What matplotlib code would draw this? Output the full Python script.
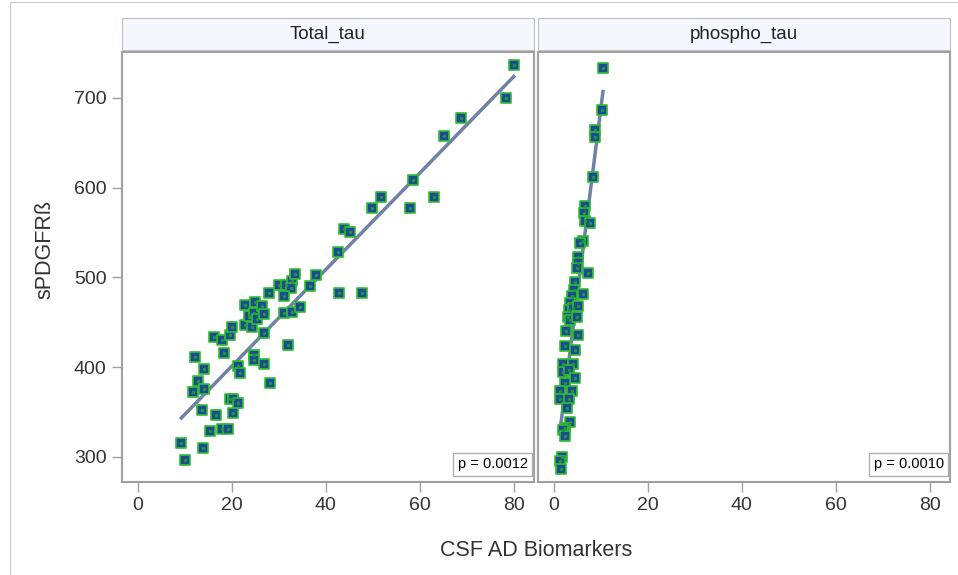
import numpy as np
from matplotlib import pyplot as plt
from matplotlib.patches import Rectangle

# sPDGFRb vs CSF AD biomarkers
total_tau_x = [9.3, 10.0, 13.9, 13.7, 15.3, 16.7, 17.9, 19.2, 20.2, 19.7, 20.3, 21.4,
               11.7, 12.9, 14.2, 14.2, 12.1, 18.3, 16.2, 17.9, 19.6, 20.1, 21.3, 21.7,
               22.9, 22.9, 24.3, 23.6, 24.7, 25.4, 25.0, 26.5, 26.9, 26.9, 24.7, 24.8,
               26.8, 28.1, 28.0, 30.0, 31.6, 32.8, 32.5, 31.0, 33.5, 31.2, 32.8, 34.6,
               31.9, 36.7, 38.0, 42.7, 47.6, 79.9, 78.2, 68.8, 65.0, 58.5, 62.9, 57.8,
               51.6, 49.8, 43.9, 45.2, 42.6]
total_tau_y = [316, 297, 310, 352, 329, 347, 331, 331, 349, 364, 364, 360,
               372, 385, 376, 398, 411, 416, 434, 430, 436, 445, 401, 393,
               469, 447, 445, 457, 460, 454, 472, 468, 459, 438, 414, 408,
               404, 382, 482, 492, 492, 496, 488, 479, 504, 460, 461, 467,
               425, 490, 503, 483, 483, 737, 700, 677, 657, 608, 590, 577,
               590, 577, 554, 550, 528]

phospho_tau_x = [10.5, 10.3, 8.7, 8.9, 8.3, 6.7, 6.4, 6.7, 7.8, 6.2, 5.7, 5.3,
                 5.2, 4.9, 7.3, 4.6, 4.4, 6.2, 3.9, 3.5, 3.2, 4.2, 5.3, 3.0,
                 3.5, 4.9, 2.7, 5.3, 2.5, 4.6, 2.0, 4.1, 2.0, 3.2, 4.6, 2.5,
                 1.4, 1.4, 3.9, 3.2, 2.8, 3.5, 2.5, 2.1, 2.5, 1.8, 1.4, 1.5]
phospho_tau_y = [733, 686, 664, 656, 612, 580, 572, 563, 560, 540, 538, 523,
                 516, 510, 505, 495, 486, 481, 479, 471, 464, 466, 468, 456,
                 453, 456, 440, 436, 423, 419, 404, 404, 395, 397, 388, 382,
                 373, 365, 373, 364, 354, 339, 332, 330, 323, 300, 295, 287]

panel_titles = ['Total_tau', 'phospho_tau']
p_values = ['0.0012', '0.0010']
x_ticks = [0, 20, 40, 60, 80]
y_ticks = [300, 400, 500, 600, 700]

plt.rcParams['font.family'] = ['Liberation Sans', 'DejaVu Sans']

fig = plt.figure(figsize=(9.58, 5.75), dpi=100)
fig.patches.append(Rectangle((10 / 958, -0.01), 1.0, 1.0 - 2 / 575 + 0.01,
                             transform=fig.transFigure, fill=False,
                             edgecolor='#d0d0d0', linewidth=1))

grey = '#a0a0a0'
panels = [(122, total_tau_x, total_tau_y), (538, phospho_tau_x, phospho_tau_y)]

for i, (left_px, xs, ys) in enumerate(panels):
    ax = fig.add_axes([left_px / 958, 1 - 482 / 575, 412 / 958, 430 / 575])
    xs = np.array(xs)
    ys = np.array(ys)

    slope, intercept = np.polyfit(xs, ys, 1)
    line_x = np.array([xs.min(), xs.max()])
    ax.plot(line_x, slope * line_x + intercept, color='#6f82a6', linewidth=2.5, zorder=2)

    ax.scatter(xs, ys, marker='s', s=45, facecolor='#1f4a96', edgecolor='#2fbf2f',
               linewidth=1.2, zorder=3)
    ax.scatter(xs, ys, marker='o', s=6, color='#1e9a30', linewidth=0, zorder=4)

    ax.set_xlim(-3.3, 84.2)
    ax.set_ylim(272, 751)
    ax.set_xticks(x_ticks)
    ax.set_yticks(y_ticks)
    for spine in ax.spines.values():
        spine.set_color(grey)
        spine.set_linewidth(1.5)
    ax.tick_params(direction='out', length=7, color=grey, labelsize=14,
                   labelcolor='#333333', width=1, pad=4)
    if i > 0:
        ax.tick_params(axis='y', left=False, labelleft=False)

    ax.text(0.985, 0.025, 'p = ' + p_values[i], transform=ax.transAxes,
            ha='right', va='bottom', fontsize=10.5,
            bbox=dict(boxstyle='square,pad=0.3', facecolor='white', edgecolor='#b0b0b0'))

    # facet header strip
    hdr = fig.add_axes([left_px / 958, 1 - 50 / 575, 412 / 958, 32 / 575])
    hdr.set_facecolor('#f5f7fe')
    hdr.set_xticks([])
    hdr.set_yticks([])
    for spine in hdr.spines.values():
        spine.set_color('#c0c0c0')
    hdr.text(0.5, 0.5, panel_titles[i], ha='center', va='center', fontsize=13.5,
             color='#222222', transform=hdr.transAxes)

fig.text(45 / 958, 1 - 250 / 575, 'sPDGFRß', rotation=90, ha='center', va='center',
         fontsize=15.5, color='#333333')
fig.text(536 / 958, 1 - 550 / 575, 'CSF AD Biomarkers', ha='center', va='center',
         fontsize=15.5, color='#333333')

fig.savefig('out.png', dpi=100)
